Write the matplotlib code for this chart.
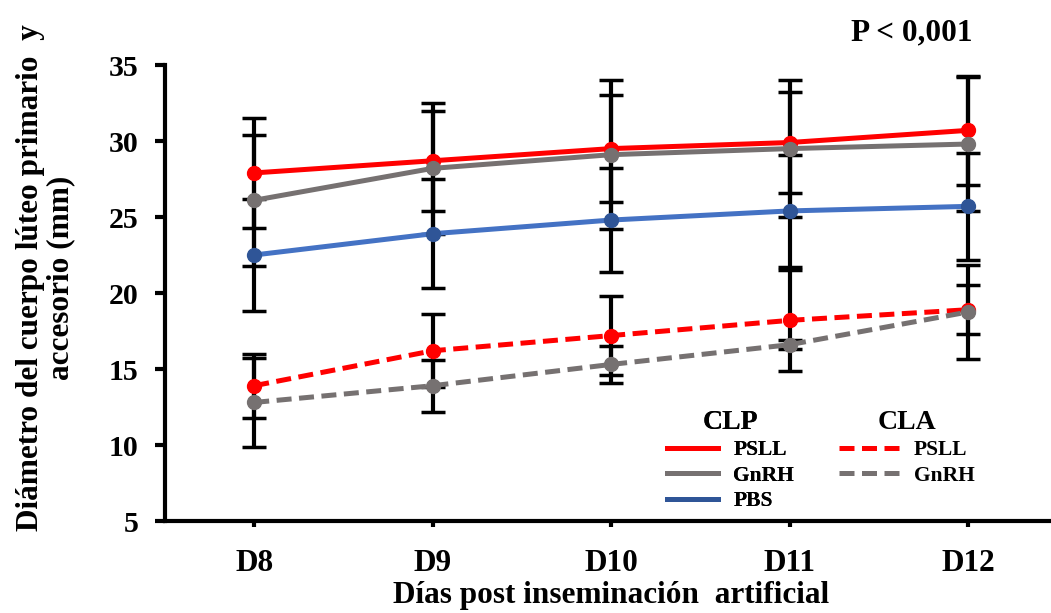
import matplotlib
matplotlib.use("Agg")
import matplotlib.pyplot as plt
from matplotlib.lines import Line2D
import numpy as np

plt.rcParams['font.family'] = ['Liberation Serif', 'DejaVu Serif']
plt.rcParams['font.weight'] = 'bold'

dias = ['D8', 'D9', 'D10', 'D11', 'D12']

# CLP (cuerpo lúteo primario)
clp_psll = [27.9, 28.7, 29.5, 29.9, 30.7]
clp_psll_err = [3.6, 3.3, 3.5, 3.3, 3.6]
clp_gnrh = [26.1, 28.2, 29.1, 29.5, 29.8]
clp_gnrh_err = [4.3, 4.3, 4.9, 4.5, 4.4]
clp_pbs = [22.5, 23.9, 24.8, 25.4, 25.7]
clp_pbs_err = [3.7, 3.6, 3.4, 3.7, 3.5]

# CLA (cuerpo lúteo accesorio)
cla_psll = [13.9, 16.2, 17.2, 18.2, 18.9]
cla_psll_err = [2.1, 2.4, 2.6, 3.3, 1.6]
cla_gnrh = [12.8, 13.9, 15.3, 16.6, 18.75]
cla_gnrh_err = [2.9, 1.7, 1.2, 0.3, 3.1]

rojo = '#FF0000'
gris = '#767171'
azul = '#4472C4'
azul_osc = '#2F5597'

fig = plt.figure(figsize=(10.51, 6.13), dpi=100)
ax = fig.add_axes([165 / 1051, 92 / 613, 1 - 165 / 1051, (521 - 65) / 613])
x = np.arange(len(dias))

series = [
    (clp_psll, clp_psll_err, rojo, rojo, '-'),
    (clp_gnrh, clp_gnrh_err, gris, gris, '-'),
    (clp_pbs, clp_pbs_err, azul, azul_osc, '-'),
    (cla_psll, cla_psll_err, rojo, rojo, '--'),
    (cla_gnrh, cla_gnrh_err, gris, gris, '--'),
]

# barras de error primero (detrás de las líneas)
for y, e, c, mc, ls in series:
    ax.errorbar(x, y, yerr=e, fmt='none', ecolor='black', elinewidth=3,
                capsize=8.5, capthick=2.5, zorder=2)

for y, e, c, mc, ls in series:
    ln, = ax.plot(x, y, color=c, lw=3.6, linestyle=ls, marker='o', ms=10,
                  mfc=mc, mec=mc, zorder=3)
    if ls == '--':
        ln.set_dashes((3, 1.5))

ax.set_xlim(-0.5, 4.465)
ax.set_ylim(5, 35)
ax.set_yticks([5, 10, 15, 20, 25, 30, 35])
ax.set_xticks(x)
ax.set_xticklabels(dias)
for s in ['top', 'right']:
    ax.spines[s].set_visible(False)
for s in ['left', 'bottom']:
    ax.spines[s].set_linewidth(3)
ax.tick_params(axis='y', length=7, width=3, labelsize=21.5, pad=12)
ax.tick_params(axis='x', length=4, width=3, labelsize=22.5, pad=16)
for lab in ax.get_xticklabels() + ax.get_yticklabels():
    lab.set_fontweight('bold')

fig.text(46 / 1051, 1 - 278 / 613, 'Diámetro del cuerpo lúteo primario  y\naccesorio (mm)',
         rotation=90, ha='center', va='center', fontsize=22.5, fontweight='bold',
         linespacing=1.05)
fig.text(611 / 1051, 1 - 596 / 613, 'Días post inseminación  artificial',
         ha='center', va='center', fontsize=22.5, fontweight='bold')
fig.text(912 / 1051, 1 - 33 / 613, 'P < 0,001', ha='center', va='center',
         fontsize=22.5, fontweight='bold')

# leyenda en dos bloques
h1 = [Line2D([], [], color=rojo, lw=3.6),
      Line2D([], [], color=gris, lw=3.6),
      Line2D([], [], color=azul_osc, lw=3.6)]
h2 = [Line2D([], [], color=rojo, lw=3.6, dashes=(3, 1.5)),
      Line2D([], [], color=gris, lw=3.6, dashes=(3, 1.5))]
leg1 = fig.legend(h1, ['PSLL', 'GnRH', 'PBS'], title='CLP', loc='upper left',
                  bbox_to_anchor=(656 / 1051, 1 - 399 / 613), frameon=False,
                  prop={'size': 15.5, 'weight': 'bold'}, handlelength=2.4,
                  labelspacing=0.25, borderpad=0, handletextpad=0.7)
leg1.get_title().set_fontsize(20)
leg1.get_title().set_fontweight('bold')
leg2 = fig.legend(h2, ['PSLL', 'GnRH'], title='CLA', loc='upper left',
                  bbox_to_anchor=(828 / 1051, 1 - 399 / 613), frameon=False,
                  prop={'size': 15.5, 'weight': 'bold'}, handlelength=2.9,
                  labelspacing=0.25, borderpad=0, handletextpad=0.6)
leg2.get_title().set_fontsize(20)
leg2.get_title().set_fontweight('bold')
fig.add_artist(leg1)

fig.savefig('out.png', dpi=100)
